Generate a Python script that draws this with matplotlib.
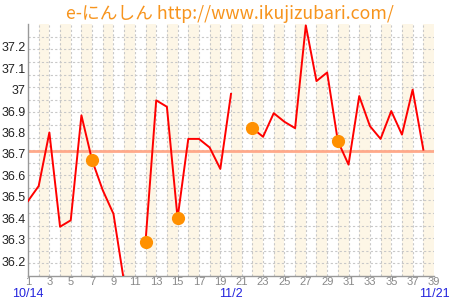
import numpy as np
import matplotlib
matplotlib.use("Agg")
import matplotlib.pyplot as plt

days = list(range(1, 39))
temps = [36.48, 36.55, 36.80, 36.36, 36.39, 36.88, 36.67, 36.53, 36.42, 36.10,
         np.nan, 36.29, 36.95, 36.92, 36.40, 36.77, 36.77, 36.73, 36.63, 36.98,
         np.nan, 36.82, 36.78, 36.89, 36.85, 36.82, 37.30, 37.04, 37.08, 36.76,
         36.65, 36.97, 36.83, 36.77, 36.90, 36.79, 37.00, 36.72]
marked_days = [7, 12, 15, 22, 30]
cover_line = 36.715
yticks = [36.2, 36.3, 36.4, 36.5, 36.6, 36.7, 36.8, 36.9, 37.0, 37.1, 37.2]
xticks = list(range(1, 40, 2))
date_days = [1, 20, 39]
date_labels = ["10/14", "11/2", "11/21"]
title = "e-にんしん http://www.ikujizubari.com/"

plt.rcParams['font.family'] = ['Liberation Sans', 'DejaVu Sans']

fig = plt.figure(figsize=(4.5, 3), dpi=100)
ax = fig.add_axes([28/450, 24/300, (434-28)/450, (276-24.3)/300])
ax.set_xlim(1, 39)
ax.set_ylim(36.13, 37.305)

# alternating bands
for d in range(2, 39, 2):
    ax.axvspan(d, d + 1, color='#FDF6E6', lw=0, zorder=0)
# grid
grid_kw = dict(color='#C8C8C8', lw=0.8, ls=(0, (2, 2)), zorder=1)
for d in range(2, 39):
    ax.axvline(d, **grid_kw)
for i in range(1, 20):
    ax.plot([0, 1], [i/20, i/20], transform=ax.transAxes, **grid_kw)

ax.axhline(cover_line, color='#FFA98A', lw=2.0, zorder=2)
ax.plot(days, temps, color='#FF0000', lw=1.4, zorder=3)
mvals = [temps[d - 1] for d in marked_days]
ax.plot(marked_days, mvals, 'o', color='#FF9000', ms=9.5, mec='none', zorder=4)

ax.set_yticks(yticks)
ax.set_yticklabels(['%g' % v for v in yticks], fontsize=9, color='#222222')
ax.set_xticks(xticks)
ax.set_xticklabels([str(v) for v in xticks], fontsize=8, color='#888888')
ax.tick_params(axis='both', length=0)
ax.tick_params(axis='x', pad=1)
ax.tick_params(axis='y', pad=1.5)
for s in ['top', 'right']:
    ax.spines[s].set_visible(False)
for s in ['left', 'bottom']:
    ax.spines[s].set_color('#999999')
    ax.spines[s].set_linewidth(1)

for d, lab in zip(date_days, date_labels):
    ax.text(d, -0.072, lab, transform=ax.get_xaxis_transform(), ha='center',
            va='center', color='#2222DD', fontsize=9)

fig.text(0.51, 0.953, title, ha='center', va='center', color='#F7941D',
         fontsize=12.8, family=['Noto Sans CJK JP', 'DejaVu Sans'])

fig.savefig('out.png', dpi=100)
